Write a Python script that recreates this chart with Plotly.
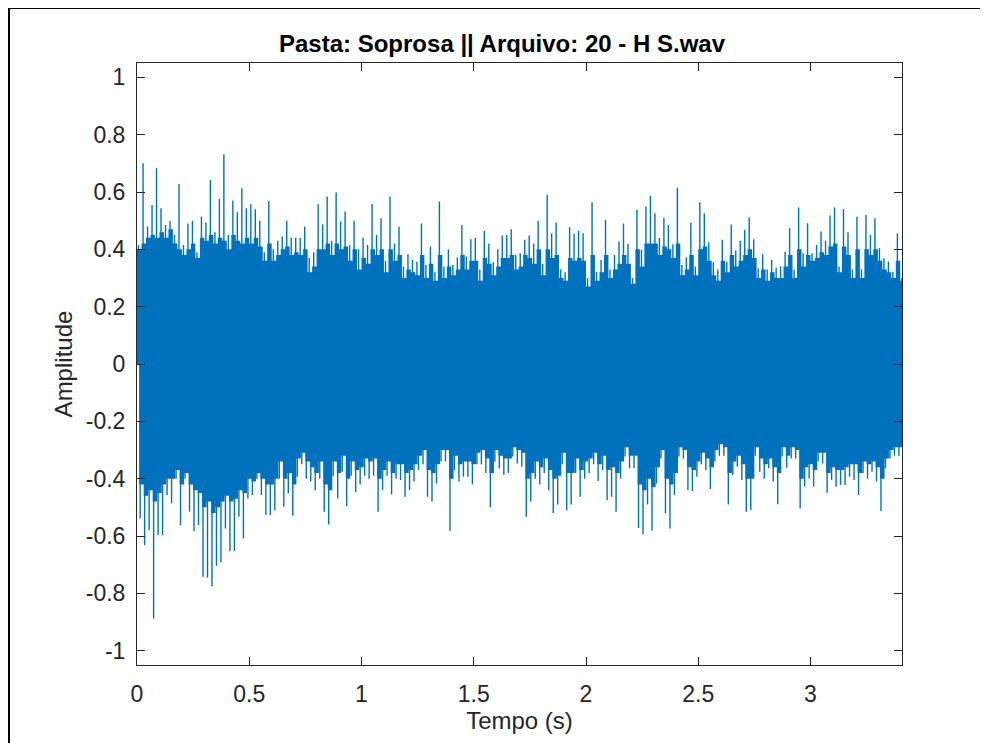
import plotly.graph_objects as go

# ---- data: one value per 0.02 s bin ----
bin_step = 0.02
duration = 3.4076

# tallest positive / negative excursion in each bin
upper_peaks = [
    0.415, 0.70, 0.48, 0.555, 0.683, 0.543, 0.485, 0.50, 0.45, 0.628,
    0.415, 0.49, 0.50, 0.39, 0.514, 0.494, 0.642, 0.46, 0.576, 0.732,
    0.45, 0.57, 0.53, 0.613, 0.543, 0.557, 0.54, 0.50, 0.39, 0.569,
    0.40, 0.43, 0.445, 0.50, 0.44, 0.44, 0.44, 0.48, 0.37, 0.39,
    0.557, 0.487, 0.584, 0.43, 0.598, 0.497, 0.532, 0.415, 0.50, 0.40,
    0.44, 0.415, 0.558, 0.45, 0.508, 0.36, 0.584, 0.42, 0.479, 0.34,
    0.383, 0.363, 0.357, 0.49, 0.345, 0.41, 0.32, 0.567, 0.34, 0.40,
    0.345, 0.372, 0.485, 0.375, 0.435, 0.44, 0.33, 0.464, 0.42, 0.355,
    0.40, 0.448, 0.45, 0.47, 0.38, 0.386, 0.433, 0.448, 0.42, 0.50,
    0.35, 0.59, 0.456, 0.494, 0.33, 0.32, 0.477, 0.454, 0.465, 0.456,
    0.30, 0.564, 0.322, 0.363, 0.503, 0.33, 0.38, 0.427, 0.49, 0.419,
    0.30, 0.537, 0.398, 0.549, 0.587, 0.526, 0.44, 0.51, 0.485, 0.418,
    0.615, 0.345, 0.372, 0.494, 0.34, 0.564, 0.526, 0.425, 0.355, 0.33,
    0.433, 0.357, 0.487, 0.396, 0.43, 0.468, 0.512, 0.435, 0.334, 0.383,
    0.33, 0.363, 0.336, 0.34, 0.392, 0.474, 0.33, 0.546, 0.386, 0.491,
    0.386, 0.415, 0.462, 0.43, 0.518, 0.546, 0.34, 0.541, 0.46, 0.33,
    0.514, 0.33, 0.52, 0.45, 0.508, 0.404, 0.369, 0.357, 0.322, 0.456,
    0.30,
]
lower_peaks = [
    -0.539, -0.632, -0.58, -0.888, -0.597, -0.597, -0.457, -0.486, -0.40, -0.562,
    -0.40, -0.515, -0.583, -0.562, -0.742, -0.745, -0.775, -0.704, -0.692, -0.574,
    -0.653, -0.653, -0.533, -0.608, -0.469, -0.457, -0.40, -0.457, -0.527, -0.527,
    -0.51, -0.40, -0.498, -0.451, -0.529, -0.393, -0.35, -0.40, -0.41, -0.44,
    -0.40, -0.515, -0.56, -0.39, -0.469, -0.376, -0.496, -0.39, -0.446, -0.42,
    -0.39, -0.40, -0.39, -0.515, -0.44, -0.39, -0.455, -0.40, -0.405, -0.463,
    -0.44, -0.41, -0.37, -0.35, -0.463, -0.48, -0.417, -0.34, -0.34, -0.582,
    -0.37, -0.41, -0.393, -0.393, -0.42, -0.35, -0.35, -0.38, -0.50, -0.34,
    -0.364, -0.387, -0.38, -0.323, -0.347, -0.358, -0.533, -0.48, -0.40, -0.42,
    -0.38, -0.44, -0.52, -0.49, -0.35, -0.51, -0.49, -0.38, -0.463, -0.40,
    -0.38, -0.35, -0.408, -0.37, -0.475, -0.463, -0.515, -0.40, -0.323, -0.364,
    -0.364, -0.572, -0.595, -0.49, -0.582, -0.417, -0.33, -0.521, -0.574, -0.457,
    -0.323, -0.33, -0.44, -0.443, -0.393, -0.35, -0.37, -0.436, -0.34, -0.32,
    -0.32, -0.49, -0.387, -0.358, -0.405, -0.515, -0.51, -0.32, -0.376, -0.40,
    -0.364, -0.41, -0.489, -0.323, -0.362, -0.33, -0.33, -0.504, -0.428, -0.40,
    -0.428, -0.34, -0.347, -0.449, -0.405, -0.428, -0.422, -0.422, -0.393, -0.405,
    -0.457, -0.38, -0.40, -0.376, -0.41, -0.513, -0.364, -0.33, -0.32, -0.32,
    -0.32,
]

# height of the dense (nearly solid) body of the signal in each bin
body_upper = [
    0.40, 0.42, 0.44, 0.45, 0.44, 0.46, 0.44, 0.47, 0.42, 0.40,
    0.38, 0.40, 0.42, 0.37, 0.44, 0.43, 0.45, 0.42, 0.44, 0.43,
    0.40, 0.45, 0.43, 0.42, 0.44, 0.42, 0.44, 0.41, 0.36,
    0.42, 0.36, 0.38, 0.40, 0.41, 0.38, 0.39, 0.38, 0.40, 0.32,
    0.34, 0.40, 0.40, 0.42, 0.38, 0.42, 0.40, 0.41, 0.36, 0.40,
    0.33, 0.37, 0.35, 0.40, 0.38, 0.40, 0.32, 0.40,
    0.36, 0.38, 0.30, 0.33, 0.32, 0.31, 0.38, 0.30, 0.35, 0.29,
    0.38, 0.30, 0.34, 0.31, 0.33, 0.38, 0.33, 0.36, 0.36, 0.29,
    0.37, 0.35, 0.31, 0.34, 0.37, 0.37, 0.38, 0.33, 0.34,
    0.38, 0.37, 0.35, 0.40, 0.31, 0.40, 0.37, 0.38, 0.30, 0.29,
    0.37, 0.36, 0.37, 0.36, 0.27, 0.38, 0.29, 0.32, 0.38, 0.30,
    0.33, 0.35, 0.38, 0.35, 0.28, 0.40, 0.34, 0.42, 0.42,
    0.42, 0.38, 0.41, 0.40, 0.37, 0.42, 0.31, 0.33, 0.38, 0.31,
    0.40, 0.41, 0.36, 0.31, 0.29, 0.36, 0.32, 0.38, 0.34, 0.36,
    0.38, 0.40, 0.37, 0.30, 0.33, 0.29, 0.32, 0.30,
    0.30, 0.34, 0.38, 0.30, 0.40, 0.34, 0.38, 0.36, 0.37, 0.39,
    0.38, 0.41, 0.42, 0.32, 0.41, 0.38, 0.30, 0.40, 0.30, 0.40,
    0.38, 0.40, 0.36, 0.33, 0.32, 0.30, 0.36, 0.29,
]
body_lower = [
    -0.42, -0.46, -0.44, -0.48, -0.45, -0.42, -0.40, -0.40, -0.37, -0.42,
    -0.38, -0.42, -0.44, -0.45, -0.50, -0.48, -0.52, -0.50, -0.48, -0.46,
    -0.48, -0.47, -0.44, -0.45, -0.40, -0.41, -0.38, -0.40, -0.42,
    -0.42, -0.40, -0.34, -0.40, -0.38, -0.42, -0.33, -0.31, -0.34, -0.36,
    -0.38, -0.34, -0.42, -0.44, -0.34, -0.38, -0.32, -0.40, -0.34, -0.37,
    -0.36, -0.33, -0.34, -0.33, -0.40, -0.37, -0.34, -0.38,
    -0.35, -0.35, -0.38, -0.37, -0.35, -0.32, -0.30, -0.37, -0.38, -0.35,
    -0.30, -0.30, -0.40, -0.32, -0.35, -0.34, -0.34, -0.35, -0.31, -0.30,
    -0.33, -0.38, -0.30, -0.32, -0.33, -0.33, -0.29, -0.30, -0.31,
    -0.40, -0.38, -0.34, -0.36, -0.33, -0.37, -0.40, -0.39, -0.31, -0.38,
    -0.38, -0.33, -0.37, -0.34, -0.33, -0.31, -0.35, -0.32, -0.37, -0.36,
    -0.38, -0.34, -0.29, -0.32, -0.32, -0.42, -0.44, -0.40, -0.43,
    -0.36, -0.30, -0.40, -0.42, -0.38, -0.29, -0.30, -0.36, -0.37, -0.34,
    -0.31, -0.33, -0.36, -0.30, -0.28, -0.29, -0.38, -0.34, -0.32, -0.35,
    -0.40, -0.40, -0.29, -0.33, -0.35, -0.33, -0.36, -0.38,
    -0.29, -0.32, -0.29, -0.30, -0.40, -0.36, -0.35, -0.37, -0.31, -0.31,
    -0.38, -0.36, -0.37, -0.37, -0.36, -0.35, -0.35, -0.38, -0.34, -0.35,
    -0.34, -0.36, -0.40, -0.33, -0.30, -0.29, -0.29, -0.29,
]

x_ticks = [0, 0.5, 1, 1.5, 2, 2.5, 3]
x_ticktext = ["0", "0.5", "1", "1.5", "2", "2.5", "3"]
y_ticks = [-1, -0.8, -0.6, -0.4, -0.2, 0, 0.2, 0.4, 0.6, 0.8, 1]
y_ticktext = ["-1", "-0.8", "-0.6", "-0.4", "-0.2", "0", "0.2", "0.4", "0.6", "0.8", "1"]

title_text = "Pasta: Soprosa || Arquivo: 20 - H S.wav"
x_title = "Tempo (s)"
y_title = "Amplitude"

# ---- figure ----
LINE = "#0072BD"
AX = "#262626"
FONT = "Liberation Sans, Arial, Helvetica, sans-serif"

bin_start = [i * bin_step for i in range(len(upper_peaks))]

fig = go.Figure()
# dense body of the waveform (step outline per bin)
fig.add_trace(go.Scatter(
    x=bin_start + [duration], y=body_upper + [body_upper[-1]],
    mode="lines", line=dict(width=0, color=LINE, shape="hv"),
    fill="tozeroy", fillcolor=LINE, hoverinfo="skip", showlegend=False))
fig.add_trace(go.Scatter(
    x=[t + bin_step / 2 for t in bin_start] + [duration],
    y=body_lower + [body_lower[-1]],
    mode="lines", line=dict(width=0, color=LINE, shape="hv"),
    fill="tozeroy", fillcolor=LINE, hoverinfo="skip", showlegend=False))
fig.add_trace(go.Scatter(
    x=[0, duration], y=[0, 0], mode="lines",
    line=dict(width=0, color=LINE), hoverinfo="skip", showlegend=False))

# individual peaks
sx, sy = [], []
for t, hi, lo in zip(bin_start, upper_peaks, lower_peaks):
    tu = t + 0.35 * bin_step
    tl = t + 0.7 * bin_step
    sx += [tu, tu, None, tl, tl, None]
    sy += [0, hi, None, 0, lo, None]
fig.add_trace(go.Scatter(
    x=sx, y=sy, mode="lines", line=dict(color=LINE, width=1.4),
    connectgaps=False, showlegend=False, hoverinfo="skip"))

axis_common = dict(
    showline=True, linecolor=AX, linewidth=1, mirror="ticks",
    ticks="inside", ticklen=8, tickwidth=1, tickcolor=AX,
    showgrid=False, zeroline=False,
    tickfont=dict(family=FONT, size=23, color=AX),
)
fig.update_xaxes(range=[0, duration], tickvals=x_ticks, ticktext=x_ticktext,
                 title=dict(text=x_title, font=dict(family=FONT, size=24, color=AX), standoff=6),
                 ticklabelstandoff=8, **axis_common)
fig.update_yaxes(range=[-1.05, 1.05], tickvals=y_ticks, ticktext=y_ticktext,
                 title=dict(text=y_title, font=dict(family=FONT, size=24, color=AX), standoff=6),
                 ticklabelstandoff=6, **axis_common)

# the page adds an 8 px body margin, so margins are shifted by 8 px
PLOT_W, PLOT_H = 765, 602
fig.update_layout(
    width=988, height=743,
    margin=dict(l=129, r=94, t=55, b=86),
    paper_bgcolor="white", plot_bgcolor="white",
    title=dict(text="<b>" + title_text + "</b>", x=0.5, xanchor="center",
               y=1 - 36 / 743, yanchor="middle",
               font=dict(family=FONT, size=24, color="black")),
    shapes=[dict(type="rect", xref="paper", yref="paper",
                 x0=-128 / PLOT_W, x1=852 / PLOT_W,
                 y0=-95 / PLOT_H, y1=1 + 55 / PLOT_H,
                 line=dict(color="black", width=2), fillcolor="rgba(0,0,0,0)",
                 layer="above")],
)

fig.write_html("out.html")
